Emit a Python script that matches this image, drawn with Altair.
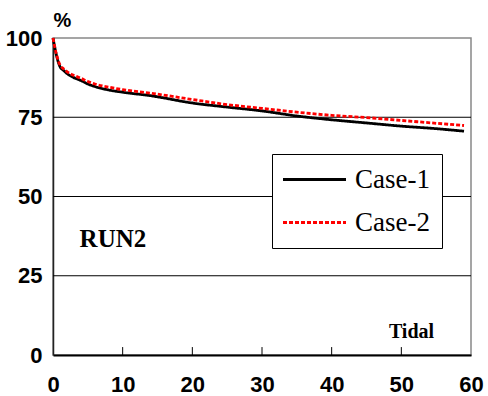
import altair as alt
import pandas as pd

# Tidal cycle number and remaining percentage for each case
tidal = [0, 0.5, 1, 1.5, 2, 3, 4, 5, 6, 8, 10, 14, 20, 25, 30, 35, 40, 45, 50, 55, 59]
case1 = [100, 94.5, 91, 89.8, 88.8, 87.5, 86.6, 85.5, 84.7, 83.6, 82.9, 81.8,
         79.5, 78.2, 77, 75.4, 74.2, 73.2, 72.2, 71.4, 70.6]
case2 = [100, 94.8, 91.5, 90.3, 89.4, 88.2, 87.3, 86.3, 85.5, 84.5, 83.7, 82.6,
         80.6, 79.0, 77.8, 76.6, 75.6, 74.9, 74.0, 73.1, 72.4]
series_names = ["Case-1", "Case-2"]
series_colors = ["black", "red"]
series_dash = [[1, 0], [4, 2]]

y_ticks = [0, 25, 50, 75, 100]
grid_levels = [25, 50, 75]
x_ticks = [0, 10, 20, 30, 40, 50, 60]
inner_ticks = [10, 20, 30, 40, 50]
tick_len = 2.5  # in y units

note_text = ["RUN2"]
note_t = [8.6]
note_val = [36.6]

rows = []
for name, vals in zip(series_names, [case1, case2]):
    for t, v in zip(tidal, vals):
        rows.append({"t": t, "v": v, "case": name})
df = pd.DataFrame(rows)

label_font = "Liberation Sans Narrow, Arial Narrow, Liberation Sans"

x_scale = alt.Scale(domain=[0, 60], nice=False, zero=False)
y_scale = alt.Scale(domain=[0, 100], nice=False)

grid = alt.Chart(pd.DataFrame({"g": grid_levels})).mark_rule(
    color="black", strokeWidth=1
).encode(y=alt.Y("g:Q", scale=y_scale))

ticks = alt.Chart(pd.DataFrame({"x": inner_ticks, "y0": [0] * 5, "y1": [tick_len] * 5})).mark_rule(
    color="black", strokeWidth=1
).encode(
    x=alt.X("x:Q", scale=x_scale),
    y=alt.Y("y0:Q", scale=y_scale),
    y2="y1:Q",
)

lines = alt.Chart(df).mark_line(interpolate="monotone", strokeWidth=2.8).encode(
    x=alt.X(
        "t:Q",
        scale=x_scale,
        axis=alt.Axis(
            values=x_ticks,
            grid=False,
            ticks=False,
            domainColor="black",
            domainWidth=2,
            labelFont=label_font,
            labelFontWeight="bold",
            labelFontSize=22,
            labelColor="black",
            labelPadding=19,
            labelFlush=False,
            title="Tidal",
            titleFont="Liberation Serif",
            titleFontWeight="bold",
            titleFontSize=20,
            titleColor="black",
            titleX=358,
            titleY=-24,
            titleAlign="center",
            titleBaseline="middle",
        ),
    ),
    y=alt.Y(
        "v:Q",
        scale=y_scale,
        axis=alt.Axis(
            values=y_ticks,
            grid=False,
            ticks=False,
            domainColor="#222222",
            domainWidth=1.5,
            labelFont=label_font,
            labelFontWeight="bold",
            labelFontSize=22,
            labelColor="black",
            labelPadding=11,
            labelFlush=False,
            title="%",
            titleFont="Liberation Sans",
            titleFontWeight="bold",
            titleFontSize=20,
            titleColor="black",
            titleAngle=0,
            titleX=9,
            titleY=-18,
            titleAlign="center",
            titleBaseline="middle",
        ),
    ),
    color=alt.Color(
        "case:N",
        scale=alt.Scale(domain=series_names, range=series_colors),
        legend=alt.Legend(
            title=None,
            orient="none",
            legendX=219,
            legendY=116,
            symbolType="M-3,0H3",
            symbolSize=441,
            symbolStrokeWidth=3,
            symbolOffset=17,
            labelOffset=27,
            labelFont="Liberation Serif",
            labelFontSize=27,
            labelColor="black",
            rowPadding=15,
            padding=12,
            strokeColor="black",
            fillColor="white",
            cornerRadius=0,
        ),
    ),
    strokeDash=alt.StrokeDash(
        "case:N",
        scale=alt.Scale(domain=series_names, range=series_dash),
        legend=None,
    ),
)

note = alt.Chart(pd.DataFrame({"text": note_text, "t": note_t, "v": note_val})).mark_text(
    font="Liberation Serif", fontWeight="bold", fontSize=25, color="black",
    align="center", baseline="middle",
).encode(
    x=alt.X("t:Q", scale=x_scale),
    y=alt.Y("v:Q", scale=y_scale),
    text="text:N",
)

chart = alt.layer(grid, ticks, lines, note).properties(
    width=418,
    height=317,
    autosize=alt.AutoSizeParams(type="none"),
    padding={"left": 53, "top": 38, "right": 17, "bottom": 41},
    background="white",
).configure_view(stroke="#888888", strokeWidth=1.5)

chart.save("out.html", embed_options={"renderer": "svg", "actions": False})
